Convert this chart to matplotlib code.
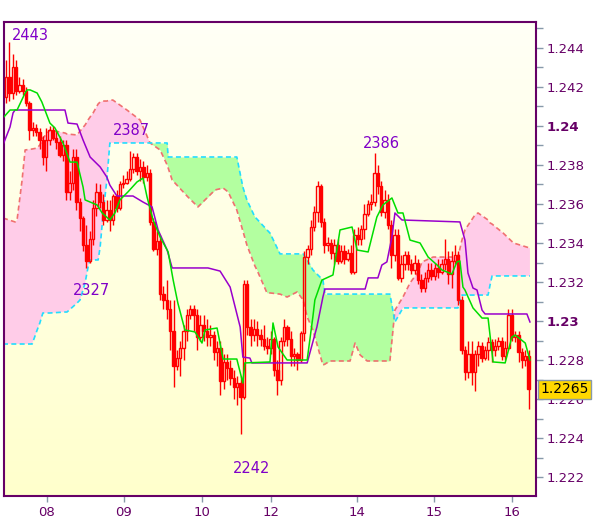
import numpy as np
import matplotlib
matplotlib.use("Agg")
import matplotlib.pyplot as plt
from matplotlib.colors import LinearSegmentedColormap

# hourly candles, quotes in points (2443 -> 1.2443)
opens = [2415, 2425, 2417, 2430, 2418, 2421, 2418, 2412, 2398, 2399,
         2397, 2393, 2384, 2393, 2398, 2394, 2392, 2385, 2390, 2366,
         2371, 2384, 2361, 2353, 2339, 2331, 2342, 2358, 2366, 2361,
         2352, 2357, 2352, 2364, 2358, 2370, 2371, 2373, 2378, 2384,
         2377, 2379, 2374, 2376, 2351, 2337, 2341, 2314, 2311, 2306,
         2295, 2277, 2281, 2286, 2295, 2303, 2306, 2303, 2292, 2298,
         2295, 2292, 2293, 2284, 2286, 2269, 2279, 2276, 2271, 2266,
         2268, 2261, 2319, 2297, 2293, 2296, 2293, 2291, 2287, 2286,
         2291, 2275, 2270, 2290, 2297, 2291, 2282, 2283, 2280, 2294,
         2333, 2337, 2348, 2356, 2369, 2351, 2339, 2340, 2335, 2339,
         2331, 2336, 2332, 2335, 2325, 2344, 2342, 2347, 2355, 2360,
         2361, 2376, 2369, 2356, 2362, 2349, 2334, 2344, 2322, 2329,
         2334, 2329, 2326, 2330, 2321, 2317, 2322, 2326, 2323, 2327,
         2325, 2329, 2332, 2324, 2331, 2334, 2311, 2285, 2274, 2283,
         2274, 2283, 2287, 2281, 2285, 2289, 2285, 2287, 2290, 2282,
         2286, 2303, 2292, 2293, 2284, 2280, 2282]
closes = [2425, 2417, 2430, 2418, 2421, 2418, 2412, 2398, 2399, 2397,
          2393, 2384, 2393, 2398, 2394, 2392, 2385, 2390, 2366, 2371,
          2384, 2361, 2353, 2339, 2331, 2342, 2358, 2366, 2361, 2352,
          2357, 2352, 2364, 2358, 2370, 2371, 2373, 2378, 2384, 2377,
          2379, 2374, 2376, 2351, 2337, 2341, 2314, 2311, 2306, 2295,
          2277, 2281, 2286, 2295, 2303, 2306, 2303, 2292, 2298, 2295,
          2292, 2293, 2284, 2286, 2269, 2279, 2276, 2271, 2266, 2268,
          2261, 2319, 2297, 2293, 2296, 2293, 2291, 2287, 2286, 2291,
          2275, 2270, 2290, 2297, 2291, 2282, 2283, 2280, 2294, 2333,
          2337, 2348, 2356, 2369, 2351, 2339, 2340, 2335, 2339, 2331,
          2336, 2332, 2335, 2325, 2344, 2342, 2347, 2355, 2360, 2361,
          2376, 2369, 2356, 2362, 2349, 2334, 2344, 2322, 2329, 2334,
          2329, 2326, 2330, 2321, 2317, 2322, 2326, 2323, 2327, 2325,
          2329, 2332, 2324, 2331, 2334, 2311, 2285, 2274, 2283, 2274,
          2283, 2287, 2281, 2285, 2289, 2285, 2287, 2290, 2282, 2286,
          2303, 2292, 2293, 2284, 2280, 2282, 2265]
highs = [2434, 2443, 2437, 2434, 2425, 2424, 2420, 2413, 2402, 2401,
         2399, 2395, 2399, 2400, 2400, 2398, 2395, 2393, 2393, 2377,
         2388, 2388, 2363, 2354, 2349, 2346, 2362, 2371, 2370, 2365,
         2362, 2362, 2365, 2367, 2372, 2375, 2377, 2387, 2386, 2386,
         2383, 2382, 2380, 2378, 2353, 2346, 2344, 2318, 2321, 2311,
         2311, 2285, 2290, 2298, 2306, 2308, 2308, 2306, 2303, 2303,
         2301, 2298, 2295, 2290, 2290, 2283, 2283, 2280, 2275, 2272,
         2272, 2321, 2321, 2301, 2301, 2300, 2296, 2298, 2292, 2295,
         2292, 2280, 2292, 2301, 2298, 2295, 2286, 2284, 2295, 2336,
         2339, 2352, 2359, 2372, 2370, 2353, 2343, 2342, 2342, 2342,
         2339, 2339, 2337, 2339, 2347, 2348, 2349, 2360, 2362, 2365,
         2386, 2380, 2372, 2367, 2365, 2352, 2347, 2347, 2334, 2336,
         2336, 2332, 2334, 2332, 2324, 2325, 2330, 2330, 2330, 2332,
         2332, 2342, 2336, 2336, 2339, 2336, 2313, 2287, 2290, 2290,
         2285, 2290, 2289, 2287, 2292, 2291, 2291, 2292, 2292, 2290,
         2306, 2306, 2295, 2295, 2286, 2285, 2285]
lows = [2412, 2413, 2414, 2416, 2417, 2416, 2410, 2393, 2395, 2395,
        2388, 2380, 2377, 2390, 2393, 2388, 2384, 2382, 2362, 2362,
        2367, 2357, 2346, 2336, 2327, 2330, 2339, 2354, 2358, 2349,
        2351, 2346, 2349, 2356, 2357, 2368, 2370, 2372, 2376, 2375,
        2372, 2371, 2372, 2349, 2336, 2334, 2311, 2306, 2301, 2285,
        2266, 2275, 2272, 2280, 2290, 2301, 2295, 2285, 2290, 2290,
        2287, 2287, 2280, 2277, 2262, 2265, 2270, 2267, 2260, 2257,
        2242, 2260, 2293, 2287, 2290, 2287, 2287, 2285, 2283, 2283,
        2272, 2262, 2267, 2287, 2287, 2277, 2277, 2275, 2279, 2290,
        2329, 2334, 2346, 2351, 2348, 2335, 2336, 2332, 2329, 2329,
        2330, 2329, 2331, 2324, 2324, 2339, 2339, 2342, 2354, 2357,
        2359, 2365, 2354, 2353, 2347, 2327, 2331, 2321, 2320, 2326,
        2326, 2324, 2324, 2319, 2315, 2315, 2320, 2321, 2321, 2322,
        2324, 2326, 2319, 2317, 2329, 2308, 2283, 2270, 2271, 2267,
        2264, 2277, 2279, 2280, 2280, 2279, 2282, 2285, 2280, 2280,
        2285, 2290, 2289, 2279, 2276, 2277, 2255]

day_labels = ['08', '09', '10', '12', '14', '15', '16']
day_pos = [12.2, 35.2, 58.5, 79.1, 104.8, 127.8, 151.0]

# tenkan (green) and kijun (purple) vertices: bar index, price
tenkan_x = [-0.9, 1.2, 3.3, 5.7, 6.3, 7.2, 9.3, 10.7, 13.1, 14.6,
            17.0, 19.1, 21.2, 23.0, 23.6, 27.2, 28.7, 31.0, 32.5, 34.0,
            36.4, 39.1, 40.9, 42.1, 43.9, 46.0, 48.4, 49.9, 51.3, 53.4,
            56.4, 58.5, 59.4, 63.0, 64.8, 68.9, 70.7, 71.3, 78.8, 79.7,
            81.2, 83.9, 89.9, 91.6, 92.2, 94.3, 97.6, 99.7, 103.3, 104.8,
            108.1, 110.7, 112.5, 115.2, 117.0, 118.5, 120.6, 123.6, 126.0, 128.7,
            130.1, 133.1, 134.6, 135.5, 136.4, 137.0, 139.4, 142.1, 143.9, 145.4,
            149.0, 151.0, 152.0, 155.0, 156.4]
tenkan_y = [1.24041, 1.24082, 1.24082, 1.24169, 1.24185, 1.24185, 1.24169, 1.24123, 1.24015, 1.23990,
            1.23913, 1.23815, 1.23815, 1.23687, 1.23621, 1.23595, 1.23554, 1.23518, 1.23554, 1.23621,
            1.23662, 1.23713, 1.23733, 1.23636, 1.23518, 1.23431, 1.23354, 1.23210, 1.23092, 1.22954,
            1.22944, 1.22887, 1.22954, 1.22964, 1.22805, 1.22805, 1.22682, 1.22785, 1.22790, 1.22990,
            1.22867, 1.22800, 1.22800, 1.23021, 1.23108, 1.23210, 1.23236, 1.23467, 1.23482, 1.23364,
            1.23354, 1.23533, 1.23595, 1.23631, 1.23554, 1.23554, 1.23415, 1.23400, 1.23328, 1.23287,
            1.23262, 1.23241, 1.23303, 1.23308, 1.23174, 1.23159, 1.23067, 1.23015, 1.23015, 1.22790,
            1.22785, 1.22918, 1.22928, 1.22887, 1.22800]
kijun_x = [-0.9, 1.2, 2.1, 2.7, 17.6, 18.5, 21.2, 23.0, 25.1, 28.1,
           30.1, 31.0, 33.1, 37.9, 40.9, 43.6, 45.4, 48.1, 49.6, 60.3,
           63.9, 66.9, 69.9, 70.7, 72.8, 73.4, 89.9, 90.7, 92.8, 94.6,
           95.2, 107.2, 108.1, 111.0, 112.2, 113.7, 115.2, 116.1, 118.2, 135.5,
           137.0, 137.9, 139.4, 140.6, 142.1, 143.0, 155.5, 156.4]
kijun_y = [1.23903, 1.23995, 1.24067, 1.24082, 1.24082, 1.24015, 1.24010, 1.23928, 1.23841, 1.23790,
           1.23738, 1.23697, 1.23641, 1.23641, 1.23610, 1.23585, 1.23467, 1.23364, 1.23272, 1.23272,
           1.23256, 1.23174, 1.22969, 1.22815, 1.22810, 1.22785, 1.22785, 1.22836, 1.22969, 1.23123,
           1.23164, 1.23164, 1.23221, 1.23221, 1.23287, 1.23303, 1.23431, 1.23554, 1.23518, 1.23508,
           1.23415, 1.23246, 1.23169, 1.23159, 1.23056, 1.23036, 1.23036, 1.22995]

# cloud (senkou span A / B)
cloud_x = [-0.9, 2.7, 3.3, 4.8, 5.7, 7.8, 9.3, 10.1, 11.0, 13.1,
           17.6, 18.2, 21.2, 22.1, 23.6, 24.5, 25.1, 26.0, 27.5, 28.1,
           29.0, 30.1, 31.0, 31.9, 36.1, 40.0, 43.0, 46.0, 48.1, 48.4,
           49.6, 54.3, 57.3, 59.4, 62.4, 64.8, 66.3, 68.9, 70.7, 71.9,
           74.3, 74.9, 77.9, 78.8, 81.8, 83.9, 86.9, 88.7, 89.9, 91.6,
           94.6, 95.2, 96.7, 102.7, 104.2, 105.7, 107.8, 114.6, 116.1, 118.5,
           120.6, 123.0, 124.2, 127.5, 134.9, 136.1, 137.0, 140.0, 140.9, 143.9,
           144.5, 145.1, 148.4, 151.5, 156.4]
span_a = [1.23528, 1.23508, 1.23518, 1.23723, 1.23877, 1.23882, 1.23887, 1.23903, 1.23938, 1.23979,
          1.23964, 1.23959, 1.23954, 1.23974, 1.24005, 1.24031, 1.24046, 1.24067, 1.24113, 1.24123,
          1.24128, 1.24128, 1.24133, 1.24133, 1.24082, 1.24031, 1.23913, 1.23877, 1.23800, 1.23785,
          1.23723, 1.23636, 1.23585, 1.23621, 1.23672, 1.23682, 1.23662, 1.23569, 1.23462, 1.23390,
          1.23282, 1.23262, 1.23144, 1.23144, 1.23138, 1.23123, 1.23149, 1.23108, 1.23021, 1.22954,
          1.22774, 1.22779, 1.22795, 1.22795, 1.22887, 1.22826, 1.22795, 1.22795, 1.23056, 1.23123,
          1.23195, 1.23251, 1.23303, 1.23328, 1.23328, 1.23415, 1.23467, 1.23544, 1.23554, 1.23518,
          1.23503, 1.23497, 1.23451, 1.23400, 1.23374]
span_b = [1.22882, 1.22882, 1.22882, 1.22882, 1.22882, 1.22882, 1.22954, 1.22990, 1.23041, 1.23041,
          1.23046, 1.23046, 1.23092, 1.23108, 1.23195, 1.23277, 1.23313, 1.23313, 1.23313, 1.23379,
          1.23554, 1.23723, 1.23913, 1.23913, 1.23913, 1.23913, 1.23913, 1.23913, 1.23913, 1.23841,
          1.23841, 1.23841, 1.23841, 1.23841, 1.23841, 1.23841, 1.23841, 1.23841, 1.23687, 1.23621,
          1.23533, 1.23523, 1.23467, 1.23451, 1.23344, 1.23344, 1.23344, 1.23344, 1.23313, 1.23262,
          1.23210, 1.23138, 1.23138, 1.23138, 1.23138, 1.23138, 1.23138, 1.23138, 1.22995, 1.23067,
          1.23067, 1.23067, 1.23067, 1.23067, 1.23067, 1.23133, 1.23133, 1.23133, 1.23133, 1.23133,
          1.23185, 1.23231, 1.23231, 1.23231, 1.23231]

# bars carrying the high/low labels
marked_highs = [1, 37, 110]
marked_lows = [24, 70]

purple = '#660066'
o = 1 + np.array(opens) / 1e4
c = 1 + np.array(closes) / 1e4
h = 1 + np.array(highs) / 1e4
l = 1 + np.array(lows) / 1e4
x = np.arange(len(opens))

xmin, xmax = -0.75, 158.06
ymin, ymax = 1.221026, 1.245333

fig = plt.figure(figsize=(6.0, 5.19), dpi=100)
ax = fig.add_axes([3.5 / 600, 23 / 519, 532 / 600, 474 / 519])

# background gradient
bg = LinearSegmentedColormap.from_list('bg', ['#fffff6', '#ffffcc'])
ax.imshow(np.linspace(0, 1, 256).reshape(-1, 1), cmap=bg, origin='upper',
          extent=[xmin, xmax, ymin, ymax], aspect='auto', zorder=0)

# cloud
ca = np.array(span_a)
cb = np.array(span_b)
ax.fill_between(cloud_x, ca, cb, where=ca >= cb, interpolate=True,
                color='#ffcce8', lw=0, zorder=1)
ax.fill_between(cloud_x, ca, cb, where=ca < cb, interpolate=True,
                color='#b3ffa0', lw=0, zorder=1)
ax.plot(cloud_x, span_a, color='#f07070', lw=1.2, ls=(0, (3, 2)), zorder=2)
ax.plot(cloud_x, span_b, color='#22ddff', lw=1.2, ls=(0, (3, 2)), zorder=2)

# candles
top = np.maximum(o, c)
bot = np.minimum(o, c)
ax.vlines(x, top, h, color='#ff0000', lw=1.0, zorder=3)
ax.vlines(x, l, bot, color='#ff0000', lw=1.0, zorder=3)
up = c >= o
ax.bar(x[up], (top - bot)[up], bottom=bot[up], width=0.72,
       facecolor='none', edgecolor='#ff0000', lw=1.0, zorder=3)
ax.bar(x[~up], (top - bot)[~up], bottom=bot[~up], width=0.72,
       facecolor='#ff0000', edgecolor='#ff0000', lw=1.0, zorder=3)

# tenkan / kijun
ax.plot(kijun_x, kijun_y, color='#9900cc', lw=1.1, zorder=4)
ax.plot(tenkan_x, tenkan_y, color='#00dd00', lw=1.1, zorder=4)

# high / low labels
offsets = {1: (3, 7), 37: (-17, 21), 110: (-12, 10), 24: (-14, -22), 70: (-8, -34)}
for i in marked_highs:
    ax.annotate(str(highs[i]), (i, h[i]), xytext=offsets[i], textcoords='offset pixels',
                ha='left', va='center', color='#8000c8', fontsize=10.5, zorder=6)
for i in marked_lows:
    ax.annotate(str(lows[i]), (i, l[i]), xytext=offsets[i], textcoords='offset pixels',
                ha='left', va='center', color='#8000c8', fontsize=10.5, zorder=6)

ax.set_xlim(xmin, xmax)
ax.set_ylim(ymin, ymax)

# axes styling
for s in ax.spines.values():
    s.set_color(purple)
    s.set_linewidth(1.5)
ax.yaxis.tick_right()
yt = np.round(np.arange(1.222, 1.2441, 0.002), 3)
ax.set_yticks(yt)
ax.set_yticklabels([f"{v:.3f}".rstrip('0') for v in yt])
ax.set_yticks(np.round(np.arange(1.223, 1.2451, 0.002), 3), minor=True)
for lab in ax.get_yticklabels():
    if len(lab.get_text()) == 4:
        lab.set_fontweight('bold')
ax.tick_params(axis='y', which='both', length=5, width=1, color='#8899aa',
               labelcolor=purple, labelsize=9.5, pad=3)
ax.set_xticks(day_pos)
ax.set_xticklabels(day_labels)
ax.tick_params(axis='x', length=4, width=1, color='#8899aa',
               labelcolor=purple, labelsize=9.5, pad=3)

# last price box (covers the 1.226 label, as in the source chart)
ax.annotate(f"{c[-1]:.4f}", (1.0, c[-1]), xycoords=('axes fraction', 'data'),
            xytext=(5, 0), textcoords='offset pixels', ha='left', va='center',
            fontsize=10, color='black', annotation_clip=False, zorder=10,
            bbox=dict(boxstyle='square,pad=0.18', fc='#ffd800', ec='#8899aa', lw=1))

fig.savefig('out.png', dpi=100)
